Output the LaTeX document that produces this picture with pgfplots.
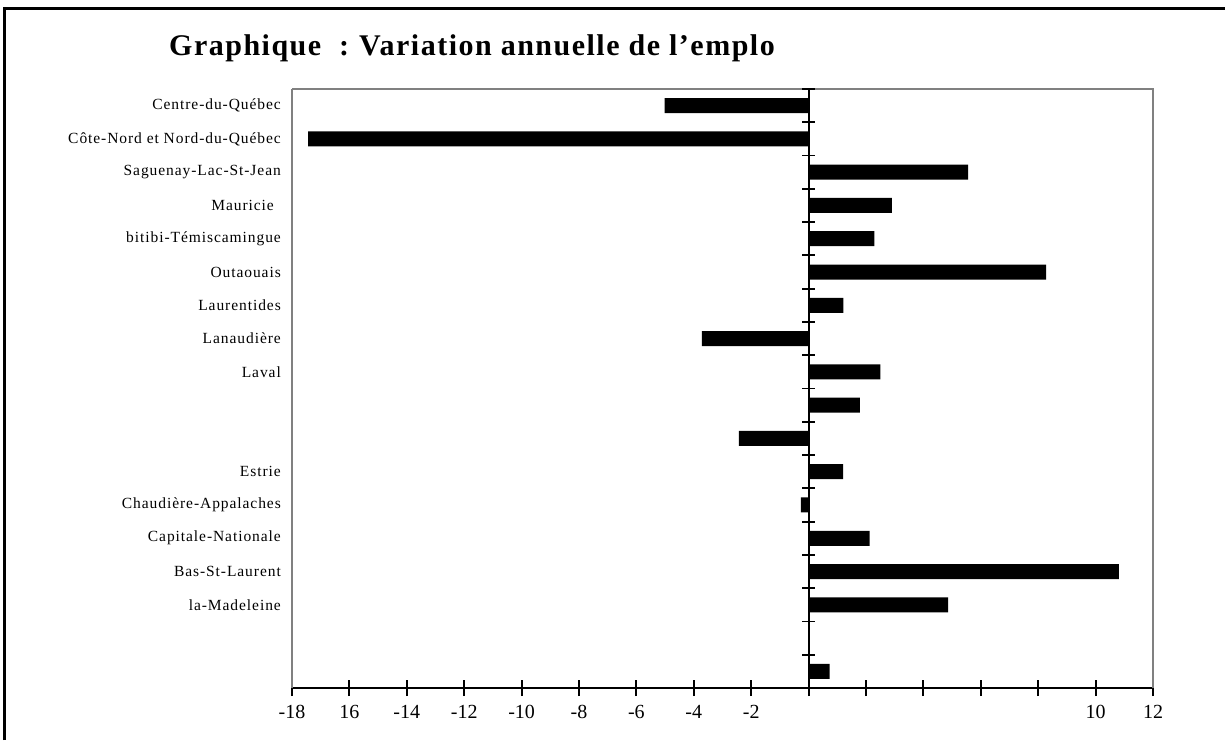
\documentclass[border=0pt]{standalone}
\usepackage{pgfplots}
\pgfplotsset{compat=1.18}
\usepackage{pgfplotstable}
\usepackage{fontspec}
\setmainfont{Liberation Serif}
\definecolor{axgray}{RGB}{128,128,128}

\pgfplotstableread{
y val
0.5 0.73
2.5 4.86
3.5 10.81
4.5 2.13
5.5 -0.27
6.5 1.20
7.5 -2.43
8.5 1.79
9.5 2.50
10.5 -3.72
11.5 1.21
12.5 8.28
13.5 2.29
14.5 2.90
15.5 5.56
16.5 -17.44
17.5 -5.02
}\datatable

\begin{document}
\begin{tikzpicture}
\useasboundingbox (0,0) rectangle (1225pt,740pt);
\draw[black, line width=3pt] (4.5pt,0pt) -- (4.5pt,731.7pt) -- (1225pt,731.7pt);
\node[anchor=base west, inner sep=0pt, font={\fontsize{30}{34}\selectfont\bfseries\addfontfeatures{LetterSpace=5}}] at (169pt,684pt) {Graphique\hspace{18pt}:\hspace{10pt}Variation annuelle de l\symbol{39}emplo};

\begin{axis}[
  at={(292pt,52pt)}, anchor=south west,
  scale only axis, width=861pt, height=599pt,
  xmin=-18, xmax=12, ymin=0, ymax=18,
  axis x line*=bottom, axis y line*=left,
  x axis line style={black, line width=2.2pt, -},
  y axis line style={axgray, line width=2pt, -},
  xtick={-18,-16,...,12},
  xticklabels={-18,16,-14,-12,-10,-8,-6,-4,-2,{},{},{},{},{},10,12},
  xtick align=center,
  major tick length=16pt,
  x tick style={black, line width=2pt},
  xticklabel style={font={\fontsize{20}{24}\selectfont}, yshift=-6pt},
  ytick={0.5,1.5,...,17.5},
  yticklabels={{},{},la-Madeleine,Bas-St-Laurent,Capitale-Nationale,Chaudière-Appalaches,Estrie,{},{},Laval,Lanaudière,Laurentides,Outaouais,bitibi-Témiscamingue,Mauricie\hspace*{7pt},Saguenay-Lac-St-Jean,Côte-Nord et Nord-du-Québec,Centre-du-Québec},
  y tick style={draw=none},
  yticklabel style={font={\fontsize{15.5}{18}\selectfont\addfontfeatures{LetterSpace=6}}, anchor=east, inner sep=0pt, xshift=-11pt},
  clip=false,
]
\addplot[xbar, fill=black, draw=none, bar width=15pt] table[x=val, y=y] {\datatable};
\draw[axgray, line width=2pt] (rel axis cs:0,1) -- (rel axis cs:1,1) -- (rel axis cs:1,0);
\end{axis}

\begin{axis}[
  at={(292pt,52pt)}, anchor=south west,
  scale only axis, width=861pt, height=599pt,
  xmin=-18, xmax=12, ymin=0, ymax=18,
  axis y line=middle, axis x line=none,
  y axis line style={black, line width=2.2pt, -},
  ytick={1,2,...,18}, yticklabels={},
  xtick=\empty,
  ytick align=center,
  major tick length=13pt,
  y tick style={black, line width=1.8pt},
]
\end{axis}
\end{tikzpicture}
\end{document}
